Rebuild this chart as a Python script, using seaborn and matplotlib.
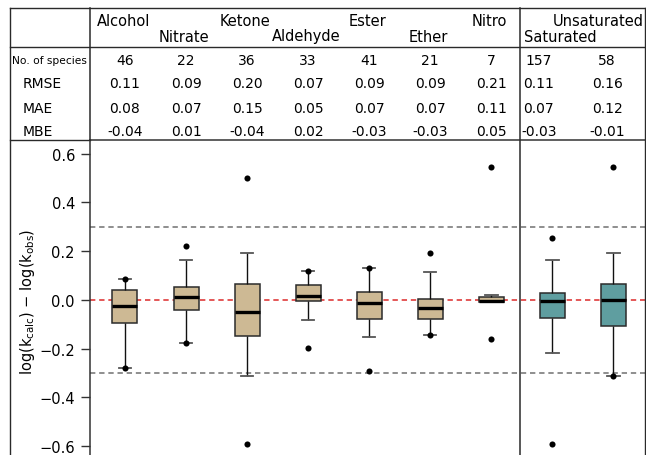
import numpy as np
import pandas as pd
import seaborn as sns
import matplotlib.pyplot as plt
from matplotlib.lines import Line2D
from matplotlib.transforms import blended_transform_factory

# groups and table values
groups = ['Alcohol', 'Nitrate', 'Ketone', 'Aldehyde', 'Ester', 'Ether', 'Nitro',
          'Saturated', 'Unsaturated']
n_species = [46, 22, 36, 33, 41, 21, 7, 157, 58]
rmse = [0.11, 0.09, 0.20, 0.07, 0.09, 0.09, 0.21, 0.11, 0.16]
mae = [0.08, 0.07, 0.15, 0.05, 0.07, 0.07, 0.11, 0.07, 0.12]
mbe = [-0.04, 0.01, -0.04, 0.02, -0.03, -0.03, 0.05, -0.03, -0.01]

# box statistics
whisker_low = [-0.278, -0.177, -0.312, -0.081, -0.152, -0.144, -0.009, -0.216, -0.312]
q1 = [-0.096, -0.043, -0.148, -0.003, -0.077, -0.080, -0.009, -0.073, -0.107]
median = [-0.023, 0.011, -0.050, 0.018, -0.011, -0.034, -0.004, -0.004, 0.000]
q3 = [0.042, 0.053, 0.065, 0.060, 0.034, 0.003, 0.011, 0.029, 0.064]
whisker_high = [0.087, 0.163, 0.194, 0.118, 0.129, 0.115, 0.019, 0.163, 0.194]

# min / max points
dot_high = [0.087, 0.221, 0.500, 0.118, 0.129, 0.193, 0.546, 0.255, 0.546]
dot_low = [-0.278, -0.177, -0.589, -0.198, -0.292, -0.144, -0.159, -0.589, -0.312]

tan = '#CDB994'
teal = '#5F9EA0'
palette = {g: (teal if g in ('Saturated', 'Unsaturated') else tan) for g in groups}

rows = []
for i, g in enumerate(groups):
    for v in (whisker_low[i], q1[i], median[i], q3[i], whisker_high[i]):
        rows.append({'group': g, 'value': v})
df = pd.DataFrame(rows)

dots = pd.DataFrame({'group': groups + groups, 'value': dot_high + dot_low})

W, H = 646, 456
fig = plt.figure(figsize=(W / 100, H / 100), dpi=100)
plt.rcParams['font.family'] = ['DejaVu Sans']

def fx(x):
    return x / W

def fy(y):
    return 1 - y / H

ax = fig.add_axes([fx(90), 0, fx(646) - fx(90), fy(141)])

ax.axhline(0, color='#DD2A2A', lw=1.1, dashes=(3.5, 2.5), zorder=1)
ax.axhline(0.3, color='#707070', lw=1.1, dashes=(3.5, 2.5), zorder=1)
ax.axhline(-0.3, color='#707070', lw=1.1, dashes=(3.5, 2.5), zorder=1)

sns.boxplot(data=df, x='group', y='value', hue='group', order=groups, hue_order=groups,
            palette=palette, saturation=1, width=0.41, whis=(0, 100), showfliers=False,
            linecolor='#2b2b2b', linewidth=1.1, legend=False, ax=ax,
            medianprops=dict(color='black', linewidth=2.4),
            whiskerprops=dict(color='#111111', linewidth=1.0),
            capprops=dict(color='#555555', linewidth=1.3))

sns.stripplot(data=dots, x='group', y='value', order=groups, jitter=False,
              color='black', size=4.4, linewidth=0, ax=ax, zorder=5)

ax.set_xlim(-0.573, 8.535)
ax.set_ylim(-0.636, 0.656)
ax.set_yticks([-0.6, -0.4, -0.2, 0.0, 0.2, 0.4, 0.6])
ax.set_xlabel('')
ax.set_xticks([])
ax.set_ylabel(r'log(k$_{\mathregular{calc}}$) − log(k$_{\mathregular{obs}}$)', fontsize=10.5)
ax.yaxis.set_label_coords(-0.095, 0.489)
ax.tick_params(axis='y', length=6.5, width=1.0, pad=4.3, labelsize=10.5, direction='out',
               color='#333333')
for s in ['right', 'bottom']:
    ax.spines[s].set_visible(False)
for s in ['left', 'top']:
    ax.spines[s].set_color('#333333')
    ax.spines[s].set_linewidth(1.1)

# frame and table lines
lc = '#2a2a2a'
def fline(x0, y0, x1, y1, lw=1.0):
    fig.add_artist(Line2D([fx(x0), fx(x1)], [fy(y0), fy(y1)], color=lc, lw=lw))

fline(10, 9, 645, 9)
fline(10, 9, 10, 456)
fline(645, 9, 645, 456)
fline(10, 48, 645, 48)
fline(10, 141, 90, 141)
fline(90, 9, 90, 141, lw=1.1)
fline(520, 9, 520, 456, lw=1.1)

trans = blended_transform_factory(ax.transData, fig.transFigure)

# header labels, staggered
upper = ['Alcohol', 'Ketone', 'Ester', 'Nitro']
for i, g in enumerate(groups[:7]):
    y = 22 if g in upper else 37
    ax.text(i - 0.03, fy(y), g, transform=trans, ha='center', va='center',
            fontsize=10.5, clip_on=False)
fig.text(fx(524), fy(37), 'Saturated', ha='left', va='center', fontsize=10.5)
fig.text(fx(644), fy(22), 'Unsaturated', ha='right', va='center', fontsize=10.5)

# value rows
row_y = [61, 84, 109, 132]
row_vals = [[str(v) for v in n_species],
            [f'{v:.2f}' for v in rmse],
            [f'{v:.2f}' for v in mae],
            [f'{v:.2f}' for v in mbe]]
col_x = list(range(7)) + [6.78, 7.9]
for y, vals in zip(row_y, row_vals):
    for x, t in zip(col_x, vals):
        ax.text(x, fy(y), t, transform=trans, ha='center', va='center',
                fontsize=10, clip_on=False)

fig.text(fx(49.5), fy(61), 'No. of species', ha='center', va='center', fontsize=7.7)
for y, t in zip(row_y[1:], ['RMSE', 'MAE', 'MBE']):
    fig.text(fx(23), fy(y), t, ha='left', va='center', fontsize=10)

fig.savefig('out.png', dpi=100)
